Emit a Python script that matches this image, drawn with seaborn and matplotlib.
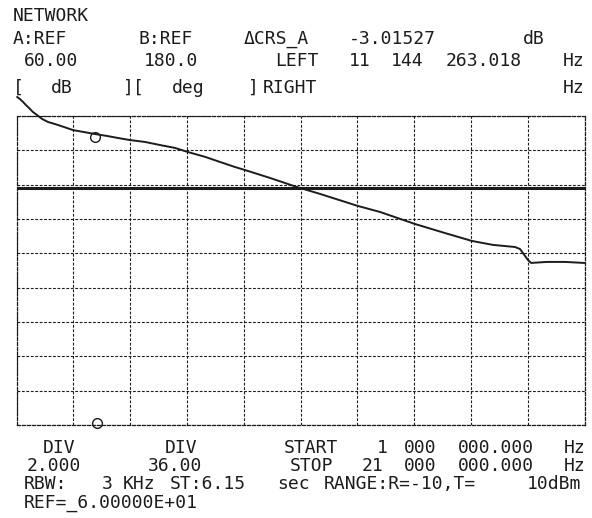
import matplotlib
matplotlib.use("Agg")
import matplotlib.pyplot as plt
import seaborn as sns
import pandas as pd

# ---------------- data ----------------
freq_mhz = [1.02, 1.12, 1.23, 1.33, 1.44, 1.58, 1.72, 1.90, 2.11, 2.36, 2.67, 2.99,
            3.76, 4.18, 4.57, 4.99, 5.52, 6.05, 6.58, 7.04, 7.64, 8.17, 8.69, 9.05,
            9.93, 10.88, 11.69, 13.02, 13.80, 15.03, 16.09, 17.04, 17.78, 18.55,
            18.73, 19.01, 19.12, 19.68, 20.31, 21.00]
level_db = [61.11, 60.99, 60.82, 60.64, 60.47, 60.23, 60.06, 59.83, 59.65, 59.53, 59.36, 59.18,
            58.95, 58.84, 58.72, 58.60, 58.49, 58.31, 58.14, 57.90, 57.62, 57.32, 57.03, 56.85,
            56.39, 55.86, 55.46, 54.76, 54.41, 53.71, 53.18, 52.72, 52.49, 52.37,
            52.25, 51.61, 51.44, 51.50, 51.50, 51.44]
ref_line_db = 55.78
marker_freq = [3.76, 3.83]
marker_db = [58.80, 42.10]

x_start, x_stop, x_div = 1.0, 21.0, 2.0
ref_db, div_db, n_ydiv = 60.0, 2.0, 9

top_rows = [
    (16, [(13, "NETWORK")]),
    (39, [(13, "A:REF"), (138, "B:REF"), (244, "ΔCRS_A"), (349, "-3.01527"), (523, "dB")]),
    (61, [(24, "60.00"), (144, "180.0"), (275, "LEFT"), (349, "11"), (391, "144"),
          (446, "263.018"), (563, "Hz")]),
    (88, [(13, "["), (51, "dB"), (123, "]["), (172, "deg"), (248, "]"), (263, "RIGHT"),
          (563, "Hz")]),
]
bottom_rows = [
    (448, [(43, "DIV"), (165, "DIV"), (284, "START"), (377, "1"), (404, "000"),
           (458, "000.000"), (564, "Hz")]),
    (466, [(27, "2.000"), (148, "36.00"), (290, "STOP"), (362, "21"), (404, "000"),
           (458, "000.000"), (564, "Hz")]),
    (484, [(24, "RBW:"), (102, "3"), (123, "KHz"), (170, "ST:6.15"), (277, "sec"),
           (324, "RANGE:R=-10,T="), (527, "10dBm")]),
    (503, [(24, "REF=_6.00000E+01")]),
]

# ---------------- figure ----------------
sns.set_theme(style="white")
plt.rcParams["font.family"] = ["DejaVu Sans Mono", "DejaVu Sans"]

W, H = 592, 518
fig = plt.figure(figsize=(W / 100, H / 100), dpi=100)
fig.patch.set_facecolor("white")
left, right, top, bottom = 16.5, 584.5, 116, 425
ax = fig.add_axes([left / W, 1 - bottom / H, (right - left) / W, (bottom - top) / H])
ax.set_facecolor("white")

ink = "#1c1c1c"
df = pd.DataFrame({"freq": freq_mhz, "db": level_db})
sns.lineplot(data=df, x="freq", y="db", ax=ax, color=ink, lw=1.4, clip_on=False, zorder=4)
ax.axhline(ref_line_db, color=ink, lw=2.2, zorder=3)
ax.plot(marker_freq, marker_db, ls="none", marker="o", ms=7, mfc="none", mec=ink, mew=1.0,
        zorder=5, clip_on=False)

ax.set_xlim(x_start, x_stop)
ax.set_ylim(ref_db - div_db * n_ydiv, ref_db)
xt = [x_start + i * x_div for i in range(int((x_stop - x_start) / x_div) + 1)]
yt = [ref_db - i * div_db for i in range(n_ydiv + 1)]
ax.set_xticks(xt)
ax.set_yticks(yt)
ax.tick_params(length=0, labelbottom=False, labelleft=False)
ax.set_xlabel("")
ax.set_ylabel("")
ax.grid(True, color=ink, lw=0.8, ls=(0, (2.5, 1.5)))
for s in ax.spines.values():
    s.set_color(ink)
    s.set_linewidth(0.9)
    s.set_linestyle((0, (2.5, 1.5)))

for rows in (top_rows, bottom_rows):
    for ypx, toks in rows:
        for xpx, t in toks:
            fig.text(xpx / W, 1 - ypx / H, t, ha="left", va="center", fontsize=13,
                     color=ink)

fig.savefig("out.png", dpi=100, facecolor="white")
